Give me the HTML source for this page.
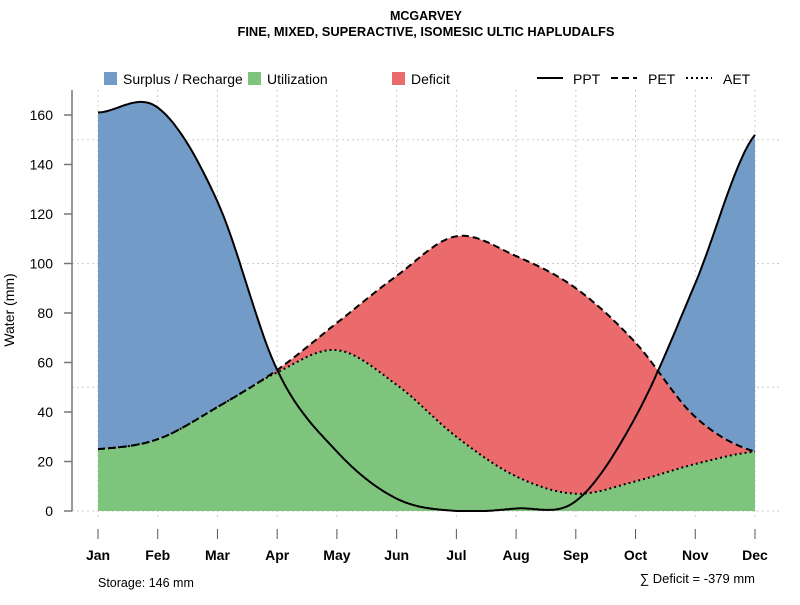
<!DOCTYPE html>
<html><head><meta charset="utf-8"><style>
body{margin:0;background:#fff}
svg text{font-family:"Liberation Sans",sans-serif;fill:#000}
</style></head><body>
<svg id="c" width="800" height="600" xmlns="http://www.w3.org/2000/svg">
<text x="426" y="20" font-size="12.5" font-weight="bold" text-anchor="middle">MCGARVEY</text>
<text x="426" y="36" font-size="12.5" font-weight="bold" text-anchor="middle" textLength="377" lengthAdjust="spacingAndGlyphs">FINE, MIXED, SUPERACTIVE, ISOMESIC ULTIC HAPLUDALFS</text>
<g id="grid"></g>
<g id="areas"></g>
<g id="lines"></g>
<g id="axes"></g>
<g>
<rect x="104" y="72" width="13" height="13" fill="#729bc8"/>
<text x="123" y="84" font-size="14">Surplus / Recharge</text>
<rect x="248" y="72" width="13" height="13" fill="#7fc47d"/>
<text x="267" y="84" font-size="14">Utilization</text>
<rect x="392" y="72" width="13" height="13" fill="#eb6b6c"/>
<text x="411" y="84" font-size="14">Deficit</text>
<line x1="537" y1="78" x2="563" y2="78" stroke="#000" stroke-width="2"/>
<text x="573" y="84" font-size="14">PPT</text>
<line x1="611" y1="78" x2="637" y2="78" stroke="#000" stroke-width="2" stroke-dasharray="7,4"/>
<text x="648" y="84" font-size="14">PET</text>
<line x1="686" y1="78" x2="712" y2="78" stroke="#000" stroke-width="2" stroke-dasharray="2,3"/>
<text x="723" y="84" font-size="14">AET</text>
</g>
<text transform="translate(14,310) rotate(-90)" font-size="14" text-anchor="middle">Water (mm)</text>
<text x="98" y="587" font-size="12.5">Storage: 146 mm</text>
<text x="755" y="583" font-size="13" text-anchor="end">∑ Deficit = -379 mm</text>
</svg>
<script>
const months=["Jan","Feb","Mar","Apr","May","Jun","Jul","Aug","Sep","Oct","Nov","Dec"];
const ppt=[161,163,125,57,24,5,0,1,4,38,92,152];
const pet=[25,29,42,57,76,95,111,103,90,68,38,24];
const aet=[25,29,42,56,65,51,30,14,7,12,19,24];
const yTicks=[0,20,40,60,80,100,120,140,160];
const yGrid=[0,50,100,150];
const NS="http://www.w3.org/2000/svg";
const X=i=>98+i*(755-98)/11;
const Y=v=>511-v*2.475;
function mk(t,a,p){const e=document.createElementNS(NS,t);for(const k in a)e.setAttribute(k,a[k]);p.appendChild(e);return e;}
function interp(arr,t){const i=Math.min(Math.floor(t),arr.length-2),u=t-i;
 const p0=arr[Math.max(i-1,0)],p1=arr[i],p2=arr[i+1],p3=arr[Math.min(i+2,arr.length-1)];
 const m1=(p2-p0)/2,m2=(p3-p1)/2,u2=u*u,u3=u2*u;
 return (2*u3-3*u2+1)*p1+(u3-2*u2+u)*m1+(-2*u3+3*u2)*p2+(u3-u2)*m2;}
const N=440,ts=[];for(let k=0;k<=N;k++)ts.push(11*k/N);
const P=ts.map(t=>Math.max(0,interp(ppt,t))),E=ts.map(t=>interp(pet,t)),A=ts.map(t=>Math.min(interp(aet,t),interp(pet,t)));
const g=document.getElementById('grid'),ar=document.getElementById('areas'),ln=document.getElementById('lines'),ax=document.getElementById('axes');
months.forEach((m,i)=>{const l=mk('line',{x1:X(i),x2:X(i),y1:90,y2:520,stroke:'#ccc','stroke-dasharray':'2,3'},g);
 });
yGrid.forEach(v=>{const l=mk('line',{x1:72,x2:780,y1:Y(v),y2:Y(v),stroke:'#ccc','stroke-dasharray':'2,3'},g);
 });
function poly(top,bot,fill,name){let d='';ts.forEach((t,k)=>d+=(k?'L':'M')+X(t).toFixed(1)+','+Y(top[k]).toFixed(1));
 for(let k=N;k>=0;k--)d+='L'+X(ts[k]).toFixed(1)+','+Y(bot[k]).toFixed(1);
 const e=mk('path',{d:d+'Z',fill:fill},ar);}
poly(P.map((p,k)=>Math.max(p,E[k])),E,'#729bc8','surplus-area');
poly(A,ts.map(()=>0),'#7fc47d','utilization-area');
poly(E,A,'#eb6b6c','deficit-area');
function line(arr,dash,name){let d='';ts.forEach((t,k)=>d+=(k?'L':'M')+X(t).toFixed(1)+','+Y(arr[k]).toFixed(1));
 const e=mk('path',{d:d,fill:'none',stroke:'#000','stroke-width':2,'stroke-dasharray':dash},ln);
 }
line(A,'2,3','aet-line');line(E,'7,4','pet-line');line(P,'none','ppt-line');
const yl=mk('line',{x1:72,x2:72,y1:90,y2:511,stroke:'#777','stroke-width':1.5},ax);

yTicks.forEach(v=>{const t=mk('line',{x1:64,x2:72,y1:Y(v),y2:Y(v),stroke:'#777','stroke-width':1.5},ax);
 
 const s=mk('text',{x:53,y:Y(v)+5,'font-size':14,'text-anchor':'end'},ax);s.textContent=v;
 });
months.forEach((m,i)=>{const t=mk('line',{x1:X(i),x2:X(i),y1:529,y2:539,stroke:'#555','stroke-width':1},ax);
 
 const s=mk('text',{x:X(i),y:560,'font-size':14,'font-weight':'bold','text-anchor':'middle'},ax);s.textContent=m;
 });
</script>
</body></html>
